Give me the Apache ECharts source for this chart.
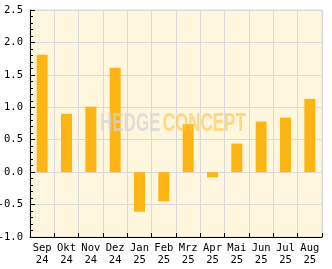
<!DOCTYPE html>
<html><head><meta charset="utf-8">
<script src="https://cdn.jsdelivr.net/npm/echarts@6/dist/echarts.min.js"></script>
<style>html,body{margin:0;padding:0;background:#fff}#c{width:332px;height:269px}</style>
</head><body><div id="c"></div>
<script>
const months = ['Sep','Okt','Nov','Dez','Jan','Feb','Mrz','Apr','Mai','Jun','Jul','Aug'];
const years = ['24','24','24','24','25','25','25','25','25','25','25','25'];
const values = [1.81, 0.90, 1.01, 1.61, -0.61, -0.45, 0.74, -0.08, 0.44, 0.78, 0.84, 1.13];
const yMin = -1.0, yMax = 2.5, yStep = 0.5;

const categories = months.map((m, i) => m + '\n' + years[i]);
const chart = echarts.init(document.getElementById('c'), null, {renderer: 'canvas'});
const mono = '"DejaVu Sans Mono", monospace';
chart.setOption({
  animation: false,
  backgroundColor: '#ffffff',
  grid: {left: 30, right: 10, top: 10, bottom: 32, outerBoundsMode: 'none', containLabel: false, show: true, backgroundColor: '#FFF6DE', borderColor: '#DADADA', borderWidth: 1},
  xAxis: {
    type: 'category', data: categories,
    axisLine: {show: true, onZero: false, lineStyle: {color: '#000', width: 1}},
    axisTick: {show: true, inside: true, length: 4, lineStyle: {color: '#000'}},
    axisLabel: {fontFamily: mono, fontSize: 10.5, color: '#000', margin: 5, lineHeight: 12.5, interval: 0},
    splitLine: {show: true, lineStyle: {color: '#DADADA', width: 1}}
  },
  yAxis: {
    type: 'value', min: yMin, max: yMax, interval: yStep,
    axisLine: {show: true, lineStyle: {color: '#000', width: 1}},
    axisTick: {show: true, inside: true, length: 5, lineStyle: {color: '#000'}},
    minorTick: {show: true, splitNumber: 5, length: 3, lineStyle: {color: '#000'}},
    axisLabel: {fontFamily: mono, fontSize: 10.5, color: '#000', margin: 7, formatter: v => v.toFixed(1)},
    splitLine: {show: true, lineStyle: {color: '#DADADA', width: 1}}
  },
  graphic: [{
    type: 'text', left: 100, top: 112, z: 100, scaleX: 0.68,
    style: {
      text: '{a|HEDGE} {b|CONCEPT}',
      rich: {
        a: {fontFamily: '"Liberation Sans", Arial, sans-serif', fontWeight: 'bold', fontSize: 25, fill: 'rgba(212,212,212,0.7)'},
        b: {fontFamily: '"Liberation Sans", Arial, sans-serif', fontWeight: 'bold', fontSize: 25, fill: 'rgba(255,196,70,0.6)'}
      }
    }
  }],
  series: [{
    type: 'bar', data: values, barWidth: 11,
    itemStyle: {color: '#FDB515'}
  }]
});
</script></body></html>
